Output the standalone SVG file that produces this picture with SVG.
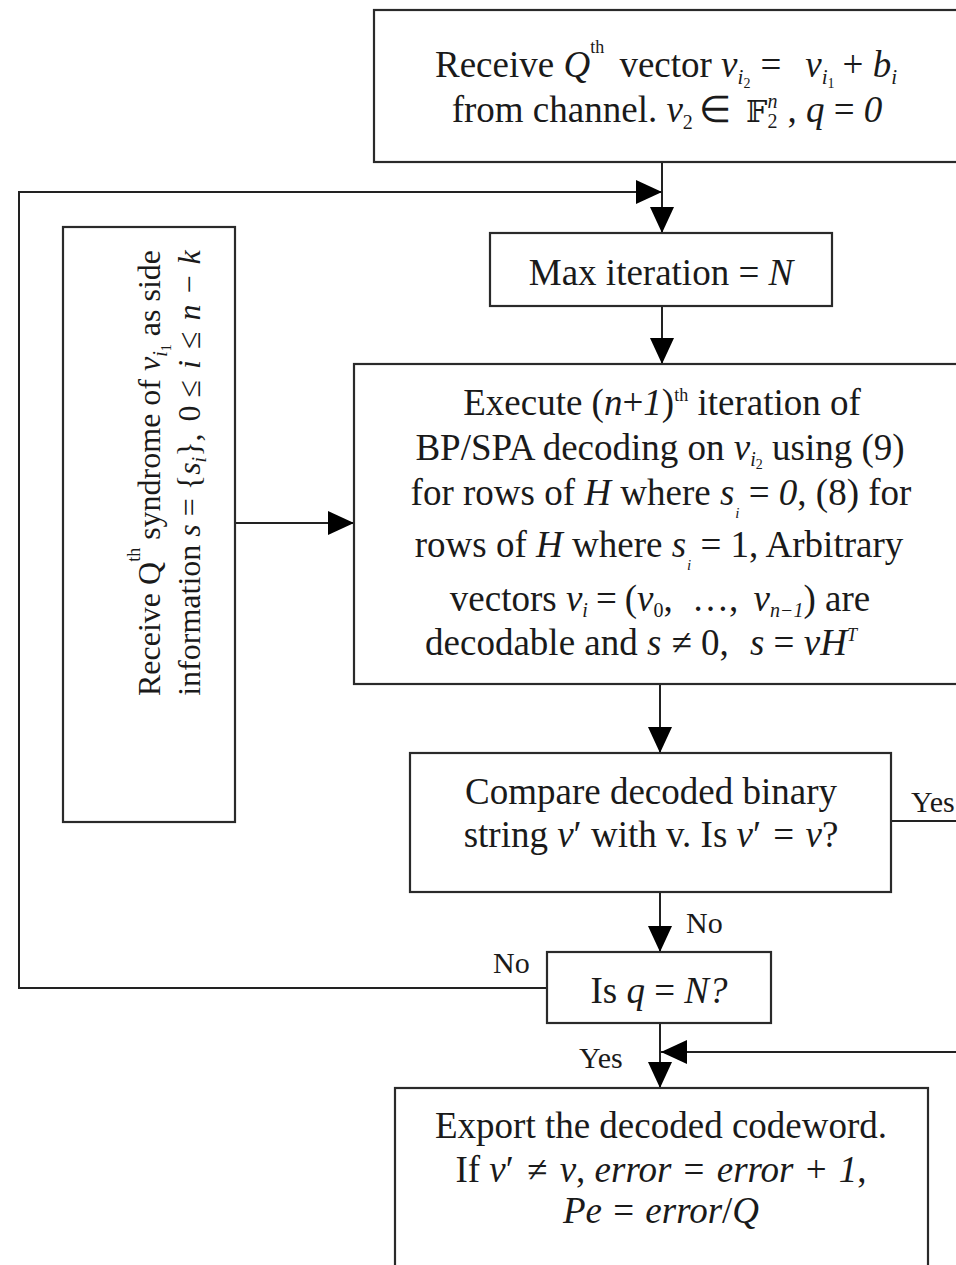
<svg xmlns="http://www.w3.org/2000/svg" width="956" height="1265" viewBox="0 0 956 1265">
<style>
.box{fill:#fff;stroke:#2a2a2a;stroke-width:2.2}
.t{font-family:"Liberation Serif","Times New Roman",serif;font-size:37px;fill:#1a1a1a;text-anchor:middle}
.r{font-size:32px}
.i{font-style:italic}
.lbl{font-family:"Liberation Serif","Times New Roman",serif;font-size:30px;fill:#1a1a1a}
.conn{fill:none;stroke:#222;stroke-width:2}
</style>
<defs>
<marker id="arr" markerUnits="userSpaceOnUse" markerWidth="26" markerHeight="24" refX="26" refY="12" orient="auto">
<path d="M0,0 L26,12 L0,24 Z" fill="#000"/>
</marker>
</defs>
<rect width="956" height="1265" fill="#fff"/>

<g id="connectors">
<path class="conn" d="M662,162 V233" marker-end="url(#arr)"/>
<path class="conn" d="M662,306 V364" marker-end="url(#arr)"/>
<path class="conn" d="M547,988 H19 V192 H662" marker-end="url(#arr)"/>
<path class="conn" d="M235,523 H354" marker-end="url(#arr)"/>
<path class="conn" d="M660,684 V753" marker-end="url(#arr)"/>
<path class="conn" d="M660,892 V952" marker-end="url(#arr)"/>
<path class="conn" d="M660,1023 V1088" marker-end="url(#arr)"/>
<path class="conn" d="M891,821 H964 V1052 H661" marker-end="url(#arr)"/>
<text class="lbl" x="911" y="812">Yes</text>
<text class="lbl" x="686" y="933">No</text>
<text class="lbl" x="493" y="973">No</text>
<text class="lbl" x="579" y="1068">Yes</text>
</g>

<g id="receive">
<rect class="box" x="374" y="10" width="600" height="152"/>
<text class="t" x="666" y="77">Receive <tspan class="i">Q</tspan><tspan font-size="18" dy="-24">th</tspan><tspan dy="24" dx="6"> vector </tspan><tspan class="i">v</tspan><tspan class="i" font-size="21" dy="7">i</tspan><tspan font-size="14" dy="4">2</tspan><tspan dy="-11" dx="10">=</tspan><tspan dx="24" class="i">v</tspan><tspan class="i" font-size="21" dy="7">i</tspan><tspan font-size="14" dy="4">1</tspan><tspan dy="-11" dx="8">+ </tspan><tspan class="i">b</tspan><tspan class="i" font-size="21" dy="7">i</tspan></text>
<text class="t" x="667" y="122">from channel. <tspan class="i">v</tspan><tspan font-size="20" dy="7">2</tspan><tspan dy="-7" dx="6">∈ </tspan><tspan font-family="DejaVu Serif, DejaVu Sans, serif" font-size="30" dx="6">𝔽</tspan><tspan class="i" font-size="20" dy="-14">n</tspan><tspan font-size="20" dx="-10" dy="20">2</tspan><tspan dy="-6" dx="10">, </tspan><tspan class="i">q</tspan> = <tspan class="i">0</tspan></text>
</g>

<g id="maxiter">
<rect class="box" x="490" y="233" width="342" height="73"/>
<text class="t" x="661" y="285">Max iteration = <tspan class="i">N</tspan></text>
</g>

<g id="syndrome">
<rect class="box" x="63" y="227" width="172" height="595"/>
<g transform="translate(0,473) rotate(-90)">
<text class="t r" x="0" y="160">Receive Q<tspan font-size="18" dy="-20">th</tspan><tspan dy="20"> syndrome of </tspan><tspan class="i">v</tspan><tspan class="i" font-size="20" dy="7">i</tspan><tspan font-size="14" dy="4">1</tspan><tspan dy="-11"> as side</tspan></text>
<text class="t r" x="0" y="200">information <tspan class="i">s</tspan> = {<tspan class="i">s</tspan><tspan class="i" font-size="20" dy="6">i</tspan><tspan dy="-6">}, </tspan><tspan dx="4">0 ≤ </tspan><tspan class="i" dx="3">i</tspan><tspan dx="3"> ≤ </tspan><tspan class="i" dx="3">n</tspan><tspan dx="3"> − </tspan><tspan class="i" dx="3">k</tspan></text>
</g>
</g>

<g id="execute">
<rect class="box" x="354" y="364" width="620" height="320"/>
<text class="t" x="662" y="415">Execute (<tspan class="i">n</tspan>+<tspan class="i">1</tspan>)<tspan font-size="18" dy="-14">th</tspan><tspan dy="14"> iteration of</tspan></text>
<text class="t" x="660" y="460">BP/SPA decoding on <tspan class="i">v</tspan><tspan class="i" font-size="20" dy="6">i</tspan><tspan font-size="14" dy="3">2</tspan><tspan dy="-9"> using (9)</tspan></text>
<text class="t" x="661" y="505">for rows of <tspan class="i">H</tspan> where <tspan class="i">s</tspan><tspan class="i" font-size="15" dx="1" dy="13">i</tspan><tspan dy="-13"> = </tspan><tspan class="i">0</tspan>, (8) for</text>
<text class="t" x="659" y="557">rows of <tspan class="i">H</tspan> where <tspan class="i">s</tspan><tspan class="i" font-size="15" dx="1" dy="13">i</tspan><tspan dy="-13"> = 1, Arbitrary</tspan></text>
<text class="t" x="660" y="611">vectors <tspan class="i">v</tspan><tspan class="i" font-size="20" dy="6">i</tspan><tspan dy="-6" dx="8">=</tspan><tspan dx="8">(</tspan><tspan class="i">v</tspan><tspan font-size="20" dy="6">0</tspan><tspan dy="-6">, </tspan><tspan dx="10">…, </tspan><tspan class="i" dx="6">v</tspan><tspan class="i" font-size="20" dy="6">n−1</tspan><tspan dy="-6">) are</tspan></text>
<text class="t" x="641" y="655">decodable and <tspan class="i">s</tspan><tspan dx="10">≠ 0, </tspan><tspan class="i" dx="12">s</tspan> = <tspan class="i">vH</tspan><tspan class="i" font-size="18" dy="-14">T</tspan></text>
</g>

<g id="compare">
<rect class="box" x="410" y="753" width="481" height="139"/>
<text class="t" x="651" y="804">Compare decoded binary</text>
<text class="t" x="651" y="847">string <tspan class="i">v</tspan>′ with v. Is <tspan class="i">v</tspan>′<tspan dx="3"> = </tspan><tspan class="i" dx="2">v</tspan>?</text>
</g>

<g id="isq">
<rect class="box" x="547" y="952" width="224" height="71"/>
<text class="t" x="659" y="1003">Is <tspan class="i">q</tspan> = <tspan class="i">N?</tspan></text>
</g>

<g id="export">
<rect class="box" x="395" y="1088" width="533" height="190"/>
<text class="t" x="661" y="1138">Export the decoded codeword.</text>
<text class="t" x="661" y="1182">If <tspan class="i">v</tspan>′<tspan dx="4"> ≠ </tspan><tspan class="i" dx="3">v</tspan>, <tspan class="i">error</tspan><tspan dx="3"> = </tspan><tspan class="i" dx="3">error</tspan><tspan dx="3"> + </tspan><tspan class="i" dx="3">1</tspan>,</text>
<text class="t" x="661" y="1223"><tspan class="i">Pe</tspan><tspan dx="2"> = </tspan><tspan class="i" dx="2">error</tspan>/<tspan class="i">Q</tspan></text>
</g>
</svg>
